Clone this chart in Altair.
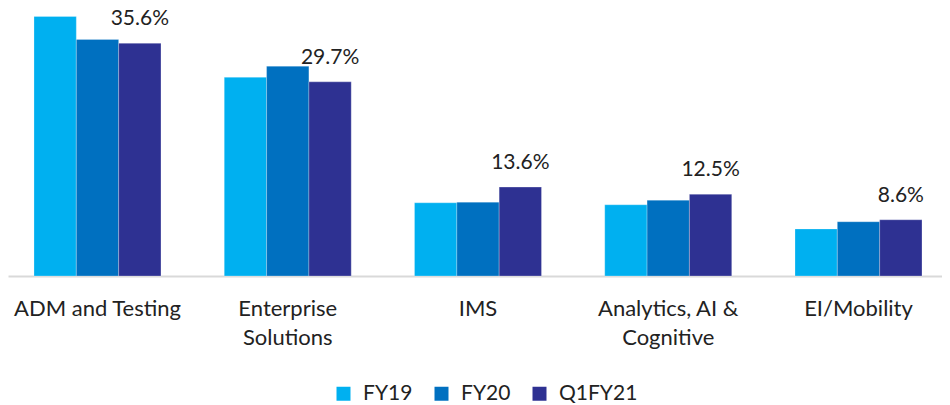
import altair as alt
import pandas as pd

categories = ["ADM and Testing", "Enterprise Solutions", "IMS", "Analytics, AI & Cognitive", "EI/Mobility"]
label_lines = [["ADM and Testing"], ["Enterprise", "Solutions"], ["IMS"], ["Analytics, AI &", "Cognitive"], ["EI/Mobility"]]
series = ["FY19", "FY20", "Q1FY21"]
fy19 = [39.7, 30.4, 11.2, 10.9, 7.2]
fy20 = [36.2, 32.1, 11.3, 11.6, 8.3]
q1fy21 = [35.6, 29.7, 13.6, 12.5, 8.6]
colors = ["#00B0F0", "#0070C0", "#2E3192"]

rows = []
for i, c in enumerate(categories):
    for s, vals in zip(series, [fy19, fy20, q1fy21]):
        rows.append({"cat": c, "series": s, "value": vals[i]})
df = pd.DataFrame(rows)

expr_parts = []
for c, lines in zip(categories, label_lines):
    arr = "[" + ",".join("'" + l.replace("'", "\\'") + "'" for l in lines) + "]"
    expr_parts.append(f"datum.label == '{c}' ? {arr}")
label_expr = " : ".join(expr_parts) + " : datum.label"

FONT = "Lato"
TXT = "#222222"

xscale = alt.Scale(paddingInner=0.3325, paddingOuter=0.1209, align=0.565)
yscale = alt.Scale(domain=[0, 41], nice=False, zero=True)
oscale = alt.Scale(domain=series)

x = alt.X("cat:N", sort=categories, title=None, scale=xscale,
          axis=alt.Axis(labelAngle=0, ticks=False, domainColor="#D9D9D9", domainWidth=2,
                        labelFontSize=22, labelFont=FONT, labelColor=TXT,
                        labelPadding=22, labelLineHeight=29, labelExpr=label_expr,
                        labelLimit=300))
y = alt.Y("value:Q", title=None, scale=yscale, axis=None)

bars = alt.Chart(df).mark_bar(stroke="#ffffff", strokeOpacity=0.25, strokeWidth=1).encode(
    x=x, y=y,
    xOffset=alt.XOffset("series:N", sort=series, scale=oscale),
    color=alt.Color("series:N", sort=series,
                    scale=alt.Scale(domain=series, range=colors),
                    legend=alt.Legend(title=None, orient="none", legendX=325, legendY=375,
                                      direction="horizontal", symbolType="square",
                                      symbolSize=196, symbolStrokeWidth=0, padding=0,
                                      labelFontSize=21, labelFont=FONT, labelColor=TXT,
                                      labelOffset=9, columnPadding=18)),
)

text = alt.Chart(df).transform_filter(alt.datum.series == "Q1FY21").transform_calculate(
    lbl="format(datum.value, '.1f') + '%'"
).mark_text(dy=-18, baseline="alphabetic", fontSize=21, font=FONT, color=TXT).encode(
    x=alt.X("cat:N", sort=categories, scale=xscale),
    y=alt.Y("value:Q", scale=yscale),
    xOffset=alt.XOffset("series:N", sort=series, scale=oscale),
    text="lbl:N",
)

chart = alt.layer(bars, text).properties(width=934, height=268, padding=0).configure_view(stroke=None)
chart.save("out.html", embed_options={"renderer": "svg", "actions": False})
